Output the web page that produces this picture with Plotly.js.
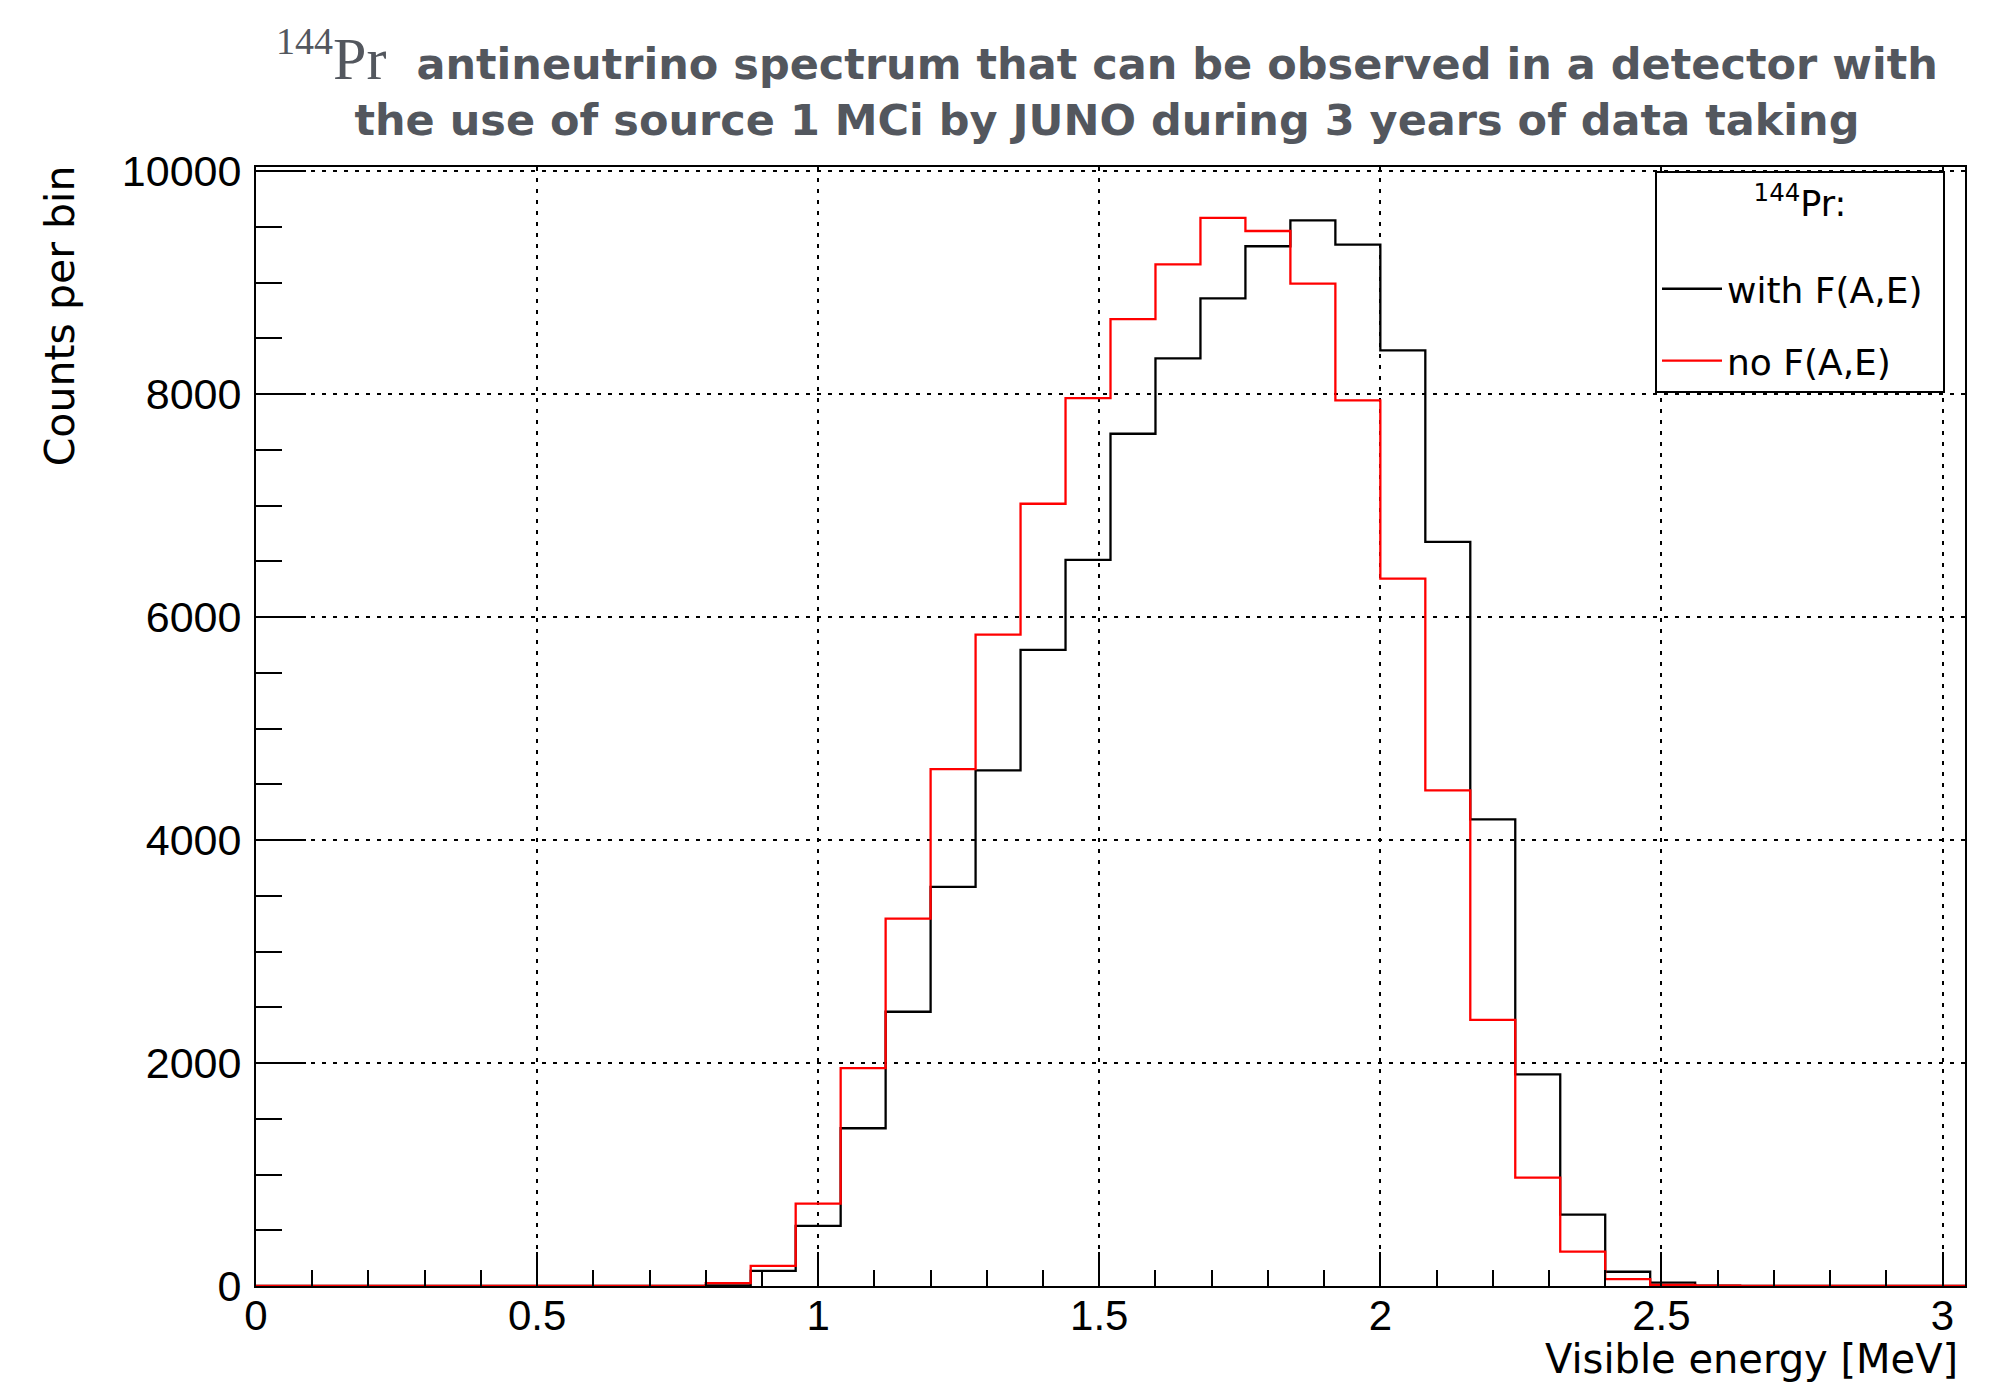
<!DOCTYPE html>
<html>
<head>
<meta charset="utf-8">
<script src="https://cdn.plot.ly/plotly-3.0.1.min.js"></script>
<style>
  html, body { margin: 0; padding: 0; background: #ffffff; }
  #chart { width: 1992px; height: 1387px; }
</style>
</head>
<body>
<div id="chart"></div>
<script>
// Histogram binning (MeV)
const binLow = 0.0;
const binWidth = 0.08;
const nBins = 38;

// Counts per bin, 38 bins from 0 to 3.04 MeV
const countsWithF = [
  0, 0, 0, 0, 0, 0, 0, 0, 0, 0,
  5, 135, 540, 1415, 2460, 3580, 4625, 5706, 6514, 7645,
  8321, 8860, 9327, 9560, 9342, 8393, 6675, 4185, 1898, 641,
  128, 30, 3, 0, 0, 0, 0, 0
];
const countsNoF = [
  0, 0, 0, 0, 0, 0, 0, 0, 0, 0,
  25, 180, 739, 1955, 3295, 4636, 5844, 7017, 7965, 8674,
  9165, 9581, 9464, 8992, 7944, 6346, 4446, 2387, 973, 308,
  62, 10, 3, 0, 0, 0, 0, 0
];

const seriesNames = ["with F(A,E)", "no F(A,E)"];
const seriesColors = ["#000000", "#ff0000"];

const titleIsotope = "<sup><span style='font-size:38px'>144</span></sup>Pr";
const titleLine1 = "antineutrino spectrum that can be observed in a detector with";
const titleLine2 = "the use of source 1 MCi by JUNO during 3 years of data taking";
const xTitle = "Visible energy [MeV]";
const yTitle = "Counts per bin";
const legendHeader = "<sup>144</sup>Pr:";

// Build step outline from bin edges
const edges = [];
for (let i = 0; i <= nBins; i++) edges.push(+(binLow + i * binWidth).toFixed(4));
function stepY(counts) { return counts.concat([counts[counts.length - 1]]); }

const traces = [countsWithF, countsNoF].map((c, i) => ({
  type: "scatter",
  mode: "lines",
  x: edges,
  y: stepY(c),
  name: seriesNames[i],
  legendgroup: "g" + i,
  line: { shape: "hv", color: seriesColors[i], width: 2.3 },
  hoverinfo: "x+y"
}));

const tickFont = { family: "Liberation Sans, Arial, sans-serif", color: "#000000" };
const textFont = { family: "DejaVu Sans, Liberation Sans, sans-serif", color: "#000000" };
const nb = (n) => "&nbsp;".repeat(n);

const layout = {
  width: 1992,
  height: 1387,
  paper_bgcolor: "#ffffff",
  plot_bgcolor: "#ffffff",
  margin: { l: 256, r: 27, t: 167, b: 101, pad: 0 },
  showlegend: true,
  title: {
    text: "<span style='font-family:Liberation Serif;font-weight:normal;font-size:60px'>" + titleIsotope + "</span> &nbsp;" + titleLine1 + "<br>" + titleLine2,
    font: { family: "DejaVu Sans, sans-serif", size: 43, color: "#53575e", weight: 700 },
    x: 0.5557,
    xanchor: "center",
    xref: "container",
    y: 0.943,
    yanchor: "top",
    yref: "container",
    automargin: false
  },
  xaxis: {
    range: [binLow, binLow + nBins * binWidth],
    tick0: 0,
    dtick: 0.5,
    ticks: "inside",
    ticklen: 34,
    tickwidth: 2,
    tickcolor: "#000000",
    minor: { dtick: 0.1, ticks: "inside", ticklen: 16, tickwidth: 2, tickcolor: "#000000", showgrid: false },
    showline: true,
    linecolor: "#000000",
    linewidth: 2,
    mirror: true,
    showgrid: true,
    gridcolor: "#000000",
    gridwidth: 2,
    griddash: "4px,7px",
    zeroline: false,
    tickfont: Object.assign({ size: 42 }, tickFont),
    ticklabelstandoff: -8,
    fixedrange: true
  },
  yaxis: {
    range: [0, 10038],
    tick0: 0,
    dtick: 2000,
    tickformat: "d",
    ticks: "inside",
    ticklen: 50,
    tickwidth: 2,
    tickcolor: "#000000",
    minor: { dtick: 500, ticks: "inside", ticklen: 26, tickwidth: 2, tickcolor: "#000000", showgrid: false },
    showline: true,
    linecolor: "#000000",
    linewidth: 2,
    mirror: true,
    showgrid: true,
    gridcolor: "#000000",
    gridwidth: 2,
    griddash: "4px,7px",
    zeroline: false,
    tickfont: Object.assign({ size: 43 }, tickFont),
    ticklabelstandoff: 4,
    fixedrange: true
  },
  legend: {
    x: 0.9883,
    xanchor: "right",
    y: 0.9964,
    yanchor: "top",
    bgcolor: "#ffffff",
    bordercolor: "#000000",
    borderwidth: 2,
    font: Object.assign({ size: 36 }, textFont),
    title: { text: nb(9) + "<span style='font-size:35px'>" + legendHeader + "</span>" + nb(9) + "<br>&nbsp;", side: "top center", font: Object.assign({ size: 33 }, textFont) },
    tracegroupgap: 22,
    itemwidth: 60
  },
  annotations: [
    {
      text: xTitle,
      xref: "paper", yref: "paper",
      x: 1, y: 0,
      xanchor: "right", yanchor: "middle",
      xshift: -5, yshift: -73,
      showarrow: false,
      font: Object.assign({ size: 40 }, textFont)
    },
    {
      text: yTitle,
      xref: "paper", yref: "paper",
      x: 0, y: 0.8666,
      xanchor: "center", yanchor: "middle",
      xshift: -196,
      textangle: -90,
      showarrow: false,
      font: Object.assign({ size: 41 }, textFont)
    }
  ]
};

Plotly.newPlot("chart", traces, layout, { displayModeBar: false, staticPlot: true });
</script>
</body>
</html>
